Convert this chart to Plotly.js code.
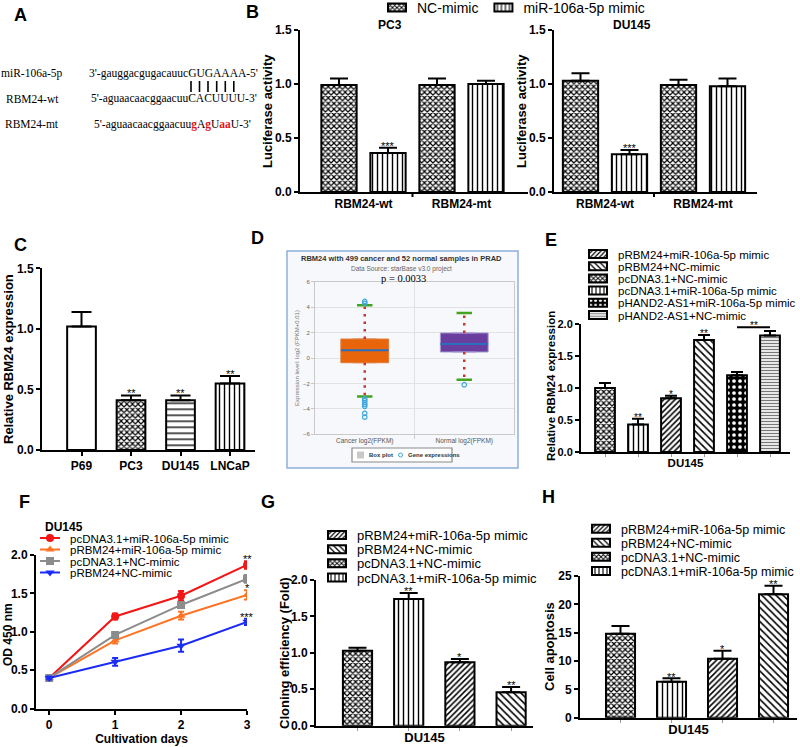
<!DOCTYPE html>
<html><head><meta charset="utf-8">
<script src="https://cdn.plot.ly/plotly-3.0.1.min.js"></script>
<style>html,body{margin:0;padding:0;background:#fff}#chart{width:800px;height:747px}</style>
</head><body><div id="chart"></div>
<script>
// ================= DATA =================
// Panel A
const aLabels = ['miR-106a-5p', 'RBM24-wt', 'RBM24-mt'];
const aSeqs = [
  "3'-gauggacgugacauucGUGAAAA-5'",
  "5'-aguaacaacggaacuuCACUUUU-3'",
  "5'-aguaacaacggaacuu<span style='color:#e8141b'><b>g</b></span>A<span style='color:#e8141b'><b>g</b></span>U<span style='color:#e8141b'><b>aa</b></span>U-3'"
];
// Panel B
const bCategories = ['RBM24-wt', 'RBM24-mt'];
const bSeries = ['NC-mimic', 'miR-106a-5p mimic'];
const bPC3NC = [0.99, 0.99];
const bPC3NCErr = [0.06, 0.06];
const bPC3Mir = [0.36, 1.00];
const bPC3MirErr = [0.05, 0.03];
const bDU145NC = [1.03, 0.99];
const bDU145NCErr = [0.07, 0.05];
const bDU145Mir = [0.35, 0.98];
const bDU145MirErr = [0.04, 0.07];
const bMirStars = ['***', ''];
// Panel C
const cLines = ['P69', 'PC3', 'DU145', 'LNCaP'];
const cValues = [1.02, 0.41, 0.41, 0.55];
const cErr = [0.12, 0.04, 0.04, 0.06];
const cStars = ['', '**', '**', '**'];
// Panel D
const dGroups = ['Cancer log2(FPKM)', 'Normal log2(FPKM)'];
const dQ1 = [-0.37, 0.47];
const dMedian = [0.60, 1.10];
const dQ3 = [1.49, 1.97];
const dLowerWhisker = [-3.02, -1.71];
const dUpperWhisker = [4.14, 3.54];
const dCancerOutliers = [4.3, 4.45, -3.2, -3.35, -3.5, -3.65, -3.8, -4.35, -4.65];
const dNormalOutliers = [-2.1];
// Panel E
const eGroups = ['pcDNA3.1+NC-mimic', 'pcDNA3.1+miR-106a-5p mimic', 'pRBM24+miR-106a-5p mimic', 'pRBM24+NC-mimic', 'pHAND2-AS1+miR-106a-5p mimic', 'pHAND2-AS1+NC-mimic'];
const eValues = [1.00, 0.43, 0.84, 1.75, 1.20, 1.82];
const eErr = [0.08, 0.09, 0.04, 0.08, 0.05, 0.07];
const eStars = ['', '**', '*', '**', '', ''];
const eLegendOrder = ['pRBM24+miR-106a-5p mimic', 'pRBM24+NC-mimic', 'pcDNA3.1+NC-mimic', 'pcDNA3.1+miR-106a-5p mimic', 'pHAND2-AS1+miR-106a-5p mimic', 'pHAND2-AS1+NC-mimic'];
// Panel F
const fDays = [0, 1, 2, 3];
const fSeries = ['pcDNA3.1+miR-106a-5p mimic', 'pRBM24+miR-106a-5p mimic', 'pcDNA3.1+NC-mimic', 'pRBM24+NC-mimic'];
const fPcMir = [0.40, 1.20, 1.47, 1.87];
const fPcMirErr = [0.02, 0.04, 0.06, 0.05];
const fRbmMir = [0.40, 0.89, 1.21, 1.48];
const fRbmMirErr = [0.02, 0.04, 0.05, 0.06];
const fPcNC = [0.40, 0.96, 1.35, 1.69];
const fPcNCErr = [0.02, 0.03, 0.04, 0.05];
const fRbmNC = [0.40, 0.61, 0.82, 1.13];
const fRbmNCErr = [0.02, 0.05, 0.08, 0.04];
const fDay3Stars = ['**', '*', '', '***'];
// Panel G
const gGroups = ['pcDNA3.1+NC-mimic', 'pcDNA3.1+miR-106a-5p mimic', 'pRBM24+miR-106a-5p mimic', 'pRBM24+NC-mimic'];
const gValues = [1.03, 1.74, 0.87, 0.46];
const gErr = [0.04, 0.08, 0.045, 0.07];
const gStars = ['', '**', '*', '**'];
const ghLegendOrder = ['pRBM24+miR-106a-5p mimic', 'pRBM24+NC-mimic', 'pcDNA3.1+NC-mimic', 'pcDNA3.1+miR-106a-5p mimic'];
// Panel H
const hValues = [14.8, 6.35, 10.4, 21.8];
const hErr = [1.4, 0.6, 1.4, 1.5];
const hStars = ['', '**', '*', '**'];

// ================= STYLE / LAYOUT HELPERS =================
const W = 800, H = 747;
const FONT = 'Liberation Sans, Arial, sans-serif';
const SERIF = 'Liberation Serif, Times New Roman, serif';
const xd = (a, b) => [a / W, b / W];
const yd = (top, bot) => [1 - bot / H, 1 - top / H];
const catRange = (pxL, pxR, c0, pitch) => [(pxL - c0) / pitch, (pxR - c0) / pitch];

const PAT = {
  checker: {shape: 'x', size: 4, solidity: 0.5, fgcolor: '#000', bgcolor: '#fff'},
  vline: {shape: '|', size: 5, solidity: 0.28, fgcolor: '#000', bgcolor: '#fff'},
  hline: {shape: '-', size: 6, solidity: 0.22, fgcolor: '#000', bgcolor: '#fff'},
  fslash: {shape: '/', size: 4, solidity: 0.38, fgcolor: '#000', bgcolor: '#fff'},
  bslash: {shape: '\\', size: 5, solidity: 0.32, fgcolor: '#000', bgcolor: '#fff'},
  dots: {shape: '.', size: 6, solidity: 0.3, fgcolor: '#fff', bgcolor: '#000'},
  hgray: {shape: '-', size: 3, solidity: 0.45, fgcolor: '#777', bgcolor: '#fff'},
  none: {shape: '', fgcolor: '#000', bgcolor: '#fff'}
};
const patternFor = {
  'pcDNA3.1+NC-mimic': PAT.checker,
  'pcDNA3.1+miR-106a-5p mimic': PAT.vline,
  'pRBM24+miR-106a-5p mimic': PAT.fslash,
  'pRBM24+NC-mimic': PAT.bslash,
  'pHAND2-AS1+miR-106a-5p mimic': PAT.dots,
  'pHAND2-AS1+NC-mimic': PAT.hgray
};
const cPatterns = [PAT.none, PAT.checker, PAT.hline, PAT.vline];

function errUp(arr, w) {
  return {type: 'data', array: arr, arrayminus: arr.map(() => 0), symmetric: false,
          color: '#000', thickness: 2, width: w};
}
function prismAxis(extra) {
  return Object.assign({
    showline: true, linecolor: '#000', linewidth: 2, ticks: 'outside', ticklen: 4,
    tickwidth: 2, tickcolor: '#000', showgrid: false, zeroline: false, fixedrange: true,
    automargin: false,
    tickfont: {family: FONT, size: 12, color: '#000', weight: 'bold'}
  }, extra);
}
function xtitle(text, size, standoff) {
  return {text: text, font: {family: FONT, size: size, color: '#000', weight: 'bold'}, standoff: standoff};
}
function legendAt(px, py, size, extra) {
  return Object.assign({x: px / W, y: 1 - py / H, xanchor: 'left', yanchor: 'middle',
    bgcolor: 'rgba(0,0,0,0)', borderwidth: 0, itemwidth: 30, tracegroupgap: 0,
    font: {family: FONT, size: size, color: '#000'}}, extra || {});
}

const traces = [];
const annotations = [];
const shapes = [];
const layout = {
  width: W, height: H, margin: {l: 0, r: 0, t: 0, b: 0, pad: 0, autoexpand: false},
  paper_bgcolor: '#fff', plot_bgcolor: '#fff', barmode: 'group', bargap: 0, bargroupgap: 0,
  font: {family: FONT, color: '#000'}, annotations: annotations, shapes: shapes
};
function pa(text, px, py, font, extra) {
  annotations.push(Object.assign({text: text, x: px / W, y: 1 - py / H, xref: 'paper', yref: 'paper',
    showarrow: false, font: font, xanchor: 'center', yanchor: 'middle'}, extra || {}));
}
function ylab(text, px, py, size) {
  pa('<b>' + text + '</b>', px, py, {family: FONT, size: size, color: '#000'}, {textangle: -90});
}
function star(text, xa, ya, x, y, size, shift) {
  if (!text) return;
  annotations.push({text: text, xref: xa, yref: ya, x: x, y: y, showarrow: false,
    xanchor: 'center', yanchor: 'bottom', yshift: shift === undefined ? -6 : shift,
    font: {family: FONT, size: size || 11, color: '#000'}});
}
const letterFont = {family: FONT, size: 18, color: '#000', weight: 'bold'};

// ================= PANEL A =================
pa('<b>A</b>', 20, 15, letterFont);
const aRowsY = [73, 99, 124];
const aSeqX = [87, 89, 92];
aLabels.forEach((t, i) => pa(t, 32, aRowsY[i], {family: SERIF, size: 11.5, color: '#000'}));
aSeqs.forEach((t, i) => pa(t, aSeqX[i], aRowsY[i], {family: SERIF, size: 11.5, color: '#000'}, {xanchor: 'left'}));
[191, 199.5, 208, 216.7, 225.3, 233.8].forEach(px => shapes.push({type: 'line', xref: 'paper', yref: 'paper',
  x0: px / W, x1: px / W, y0: 1 - 81 / H, y1: 1 - 92 / H, line: {color: '#000', width: 1.6}}));

// ================= PANEL B =================
pa('<b>B</b>', 252, 12, letterFont);
pa('<b>PC3</b>', 390, 25, {family: FONT, size: 12, color: '#000'});
pa('<b>DU145</b>', 632, 25, {family: FONT, size: 12, color: '#000'});
const bPanels = [
  {xa: 'x', ya: 'y', nc: bPC3NC, ncE: bPC3NCErr, mi: bPC3Mir, miE: bPC3MirErr},
  {xa: 'x2', ya: 'y2', nc: bDU145NC, ncE: bDU145NCErr, mi: bDU145Mir, miE: bDU145MirErr}
];
const bOffset = 0.25;
bPanels.forEach((p, k) => {
  traces.push({type: 'bar', name: bSeries[0], x: bCategories, y: p.nc, xaxis: p.xa, yaxis: p.ya,
    width: 0.36, offsetgroup: 'nc', marker: {color: '#fff', pattern: PAT.checker, line: {color: '#000', width: 2}},
    error_y: errUp(p.ncE, 9), showlegend: k === 0, legend: 'legend', hoverinfo: 'skip'});
  traces.push({type: 'bar', name: bSeries[1], x: bCategories, y: p.mi, xaxis: p.xa, yaxis: p.ya,
    width: 0.36, offsetgroup: 'mi', marker: {color: '#fff', pattern: PAT.vline, line: {color: '#000', width: 2}},
    error_y: errUp(p.miE, 9), showlegend: k === 0, legend: 'legend', hoverinfo: 'skip'});
  bMirStars.forEach((s, i) => star(s, p.xa, p.ya, i + bOffset, p.mi[i] + p.miE[i], 11));
});
layout.legend = legendAt(377, 8, 14, {orientation: 'h'});
layout.xaxis = prismAxis({domain: xd(300, 528), range: catRange(300, 528, 363.5, 98), type: 'category',
  anchor: 'y', ticks: '', categoryorder: 'array', categoryarray: bCategories});
layout.yaxis = prismAxis({domain: yd(30, 192), range: [0, 1.5], dtick: 0.5, tickformat: '.1f', anchor: 'x'});
layout.xaxis2 = prismAxis({domain: xd(554, 757), range: catRange(554, 757, 605, 98), type: 'category',
  anchor: 'y2', ticks: '', categoryorder: 'array', categoryarray: bCategories});
layout.yaxis2 = prismAxis({domain: yd(30, 192), range: [0, 1.5], dtick: 0.5, tickformat: '.1f', anchor: 'x2'});
ylab('Luciferase activity', 268, 111, 13);
ylab('Luciferase activity', 522, 111, 13);
['x', 'x2'].forEach(xa => shapes.push({type: 'line', xref: xa, yref: 'paper', x0: 0.5, x1: 0.5,
  y0: 1 - 192 / H, y1: 1 - 197 / H, line: {color: '#000', width: 2}}));

// ================= PANEL C =================
pa('<b>C</b>', 20, 245, letterFont);
traces.push({type: 'bar', x: cLines, y: cValues, xaxis: 'x3', yaxis: 'y3', width: 0.58, offsetgroup: 'c',
  marker: {color: '#fff', line: {color: '#000', width: 2},
    pattern: {shape: cPatterns.map(p => p.shape), size: cPatterns.map(p => p.size || 6),
      solidity: cPatterns.map(p => p.solidity || 0.3), fgcolor: '#000', bgcolor: '#fff'}},
  error_y: errUp(cErr, 10), showlegend: false, hoverinfo: 'skip'});
cStars.forEach((s, i) => star(s, 'x3', 'y3', i, cValues[i] + cErr[i], 11));
layout.xaxis3 = prismAxis({domain: xd(42, 255), range: catRange(42, 255, 81.5, 49.5), type: 'category',
  anchor: 'y3', categoryorder: 'array', categoryarray: cLines});
layout.yaxis3 = prismAxis({domain: yd(268.3, 450), range: [0, 1.5], dtick: 0.5, tickformat: '.1f', anchor: 'x3'});
ylab('Relative RBM24 expression', 8, 359, 13);

// ================= PANEL D =================
pa('<b>D</b>', 257, 238, letterFont);
shapes.push({type: 'rect', xref: 'paper', yref: 'paper', x0: 287 / W, x1: 518 / W, y0: 1 - 468 / H, y1: 1 - 251 / H,
  line: {color: '#8fb0da', width: 1.5}, fillcolor: '#f6f8fb', layer: 'below'});
pa('<b>RBM24 with 499 cancer and 52 normal samples in PRAD</b>', 402, 258, {family: FONT, size: 7.5, color: '#333'});
pa('Data Source: starBase v3.0 project', 402, 269, {family: FONT, size: 6.5, color: '#666'});
pa('p = 0.0033', 403, 278.5, {family: SERIF, size: 10.5, color: '#000'});
const dFill = ['#e8650c', '#693e9e'];
const dEdge = ['#e07b35', '#a79ad6'];
const dBoxW = 0.48;
dGroups.forEach((g, i) => {
  traces.push({type: 'box', name: g, x: [i], q1: [dQ1[i]], median: [dMedian[i]], q3: [dQ3[i]],
    lowerfence: [dQ1[i]], upperfence: [dQ3[i]], width: dBoxW, fillcolor: dFill[i],
    line: {color: dEdge[i], width: 1}, xaxis: 'x4', yaxis: 'y4', showlegend: false, hoverinfo: 'skip'});
  traces.push({type: 'scatter', mode: 'lines', x: [i - dBoxW / 2, i + dBoxW / 2], y: [dMedian[i], dMedian[i]],
    line: {color: '#2a6ebd', width: 2}, xaxis: 'x4', yaxis: 'y4', showlegend: false, hoverinfo: 'skip'});
  traces.push({type: 'scatter', mode: 'lines', x: [i, i, null, i, i],
    y: [dQ3[i], dUpperWhisker[i], null, dQ1[i], dLowerWhisker[i]],
    line: {color: '#c0392b', width: 2.5, dash: '2.5px,5px'}, xaxis: 'x4', yaxis: 'y4', showlegend: false, hoverinfo: 'skip'});
  traces.push({type: 'scatter', mode: 'markers', x: [i, i], y: [dLowerWhisker[i], dUpperWhisker[i]],
    marker: {symbol: 'line-ew', size: 11, line: {color: '#43a21e', width: 2.5}},
    xaxis: 'x4', yaxis: 'y4', showlegend: false, hoverinfo: 'skip'});
});
[dCancerOutliers, dNormalOutliers].forEach((arr, i) => traces.push({type: 'scatter', mode: 'markers',
  x: arr.map(() => i), y: arr, marker: {symbol: 'circle-open', size: 4.5, color: '#3fa7dc', line: {width: 1.2}},
  xaxis: 'x4', yaxis: 'y4', showlegend: false, hoverinfo: 'skip'}));
layout.xaxis4 = {domain: xd(315, 514), range: [-0.5, 1.5], anchor: 'y4', showline: true, mirror: true,
  linecolor: '#c9c9c9', linewidth: 1, showgrid: false, zeroline: false, fixedrange: true,
  tickvals: [0, 1], ticktext: dGroups, ticks: '', tickfont: {family: FONT, size: 6.5, color: '#555'},
  minor: {tickvals: [0.5], showgrid: true, gridcolor: '#e2e2e2', ticks: 'outside', ticklen: 4, tickcolor: '#c9c9c9'}};
layout.yaxis4 = {domain: yd(281.7, 434.3), range: [-6, 6], dtick: 2, anchor: 'x4', showline: true, mirror: true,
  linecolor: '#c9c9c9', linewidth: 1, showgrid: true, gridcolor: '#e2e2e2', zeroline: false, fixedrange: true,
  ticks: 'outside', ticklen: 3, tickcolor: '#c9c9c9', tickfont: {family: FONT, size: 6, color: '#666'},
  title: {text: 'Expression level: log2 (FPKM+0.01)', font: {family: FONT, size: 6, color: '#777'}, standoff: 2}};
shapes.push({type: 'rect', xref: 'paper', yref: 'paper', x0: 352 / W, x1: 452 / W, y0: 1 - 462 / H, y1: 1 - 448 / H,
  line: {color: '#8a8a8a', width: 1.2}, fillcolor: '#fff'});
shapes.push({type: 'rect', xref: 'paper', yref: 'paper', x0: 357 / W, x1: 364 / W, y0: 1 - 458.5 / H, y1: 1 - 451.5 / H,
  line: {width: 0}, fillcolor: '#c8c8c8'});
shapes.push({type: 'circle', xref: 'paper', yref: 'paper', x0: 398.5 / W, x1: 402.5 / W, y0: 1 - 457 / H, y1: 1 - 453 / H,
  line: {color: '#3fa7dc', width: 1}});
pa('<b>Box plot</b>', 367, 455, {family: FONT, size: 6, color: '#333'}, {xanchor: 'left'});
pa('<b>Gene expressions</b>', 406, 455, {family: FONT, size: 6, color: '#333'}, {xanchor: 'left'});

// ================= PANEL E =================
pa('<b>E</b>', 551, 240, letterFont);
eGroups.forEach((g, i) => {
  const rank = eLegendOrder.indexOf(g);
  const lg = 'legend' + (2 + rank);
  traces.push({type: 'bar', name: g, x: [g], y: [eValues[i]], xaxis: 'x5', yaxis: 'y5', width: 0.6, offsetgroup: 'e',
    marker: {color: '#fff', pattern: patternFor[g], line: {color: '#000', width: 2}},
    error_y: errUp([eErr[i]], 6), legend: lg, showlegend: true, hoverinfo: 'skip'});
  layout[lg] = legendAt(578, 254 + 12.2 * rank, 11.5);
  star(eStars[i], 'x5', 'y5', i, eValues[i] + eErr[i], 10);
});
const eBr = [eGroups.indexOf('pHAND2-AS1+miR-106a-5p mimic'), eGroups.indexOf('pHAND2-AS1+NC-mimic')];
const eBrY = Math.max(eValues[eBr[1]] + eErr[eBr[1]], eValues[eBr[0]] + eErr[eBr[0]]) + 0.06;
shapes.push({type: 'line', xref: 'x5', yref: 'y5', x0: eBr[0], x1: eBr[1], y0: eBrY, y1: eBrY, line: {color: '#000', width: 2}});
star('**', 'x5', 'y5', (eBr[0] + eBr[1]) / 2, eBrY, 10);
layout.xaxis5 = prismAxis({domain: xd(581, 790), range: catRange(581, 790, 605, 33), type: 'category', anchor: 'y5',
  categoryorder: 'array', categoryarray: eGroups, showticklabels: false, ticklen: 3, tickwidth: 1, tickcolor: '#999',
  title: xtitle('DU145', 11.5, 3)});
layout.yaxis5 = prismAxis({domain: yd(324, 452), range: [0, 2], dtick: 0.5, tickformat: '.1f', anchor: 'x5',
  tickfont: {family: FONT, size: 11, color: '#000', weight: 'bold'}});
ylab('Relative RBM24 expression', 551, 386, 11.5);

// ================= PANEL F =================
pa('<b>F</b>', 24, 502, letterFont);
pa('<b>DU145</b>', 43, 527, {family: FONT, size: 12, color: '#000'}, {xanchor: 'left'});
const fData = [fPcMir, fRbmMir, fPcNC, fRbmNC];
const fErrs = [fPcMirErr, fRbmMirErr, fPcNCErr, fRbmNCErr];
const fColors = ['#f21616', '#ff7424', '#8c8c8c', '#1c2cf5'];
const fSymbols = ['circle', 'triangle-up', 'square', 'triangle-down'];
fSeries.forEach((name, k) => {
  const lg = 'legend' + (8 + k);
  traces.push({type: 'scatter', mode: 'lines+markers', name: name, x: fDays, y: fData[k], xaxis: 'x6', yaxis: 'y6',
    line: {color: fColors[k], width: 2}, marker: {symbol: fSymbols[k], size: 8, color: fColors[k]},
    error_y: {type: 'data', array: fErrs[k], color: fColors[k], thickness: 2, width: 3},
    legend: lg, showlegend: true, hoverinfo: 'skip'});
  layout[lg] = legendAt(30, 538 + 11.5 * k, 11.5);
  const last = fDays.length - 1;
  star(fDay3Stars[k], 'x6', 'y6', fDays[last], fData[k][last] + fErrs[k][last], 11);
});
layout.xaxis6 = prismAxis({domain: xd(36, 247), range: [-0.2, 3], tickvals: fDays, anchor: 'y6',
  title: xtitle('Cultivation days', 12, 4)});
layout.yaxis6 = prismAxis({domain: yd(555, 708.7), range: [0, 2], dtick: 0.5, tickformat: '.1f', anchor: 'x6'});
ylab('OD 450 nm', 8, 635, 12);

// ================= PANEL G =================
pa('<b>G</b>', 268, 502, letterFont);
gGroups.forEach((g, i) => {
  const rank = ghLegendOrder.indexOf(g);
  const lg = 'legend' + (12 + rank);
  traces.push({type: 'bar', name: g, x: [g], y: [gValues[i]], xaxis: 'x7', yaxis: 'y7', width: 0.57, offsetgroup: 'g',
    marker: {color: '#fff', pattern: patternFor[g], line: {color: '#000', width: 2}},
    error_y: errUp([gErr[i]], 9), legend: lg, showlegend: true, hoverinfo: 'skip'});
  layout[lg] = legendAt(317, 535 + 14.2 * rank, 13);
  star(gStars[i], 'x7', 'y7', i, gValues[i] + gErr[i], 11);
});
layout.xaxis7 = prismAxis({domain: xd(316, 533), range: catRange(316, 533, 357.5, 51.2), type: 'category', anchor: 'y7',
  categoryorder: 'array', categoryarray: gGroups, showticklabels: false, ticklen: 3, tickwidth: 1, tickcolor: '#999',
  title: xtitle('DU145', 13, 3)});
layout.yaxis7 = prismAxis({domain: yd(580, 725.7), range: [0, 2], dtick: 0.5, tickformat: '.1f', anchor: 'x7'});
ylab('Cloning efficiency (Fold)', 284, 653, 13);

// ================= PANEL H =================
pa('<b>H</b>', 548, 497, letterFont);
gGroups.forEach((g, i) => {
  const rank = ghLegendOrder.indexOf(g);
  const lg = 'legend' + (16 + rank);
  traces.push({type: 'bar', name: g, x: [g], y: [hValues[i]], xaxis: 'x8', yaxis: 'y8', width: 0.57, offsetgroup: 'h',
    marker: {color: '#fff', pattern: patternFor[g], line: {color: '#000', width: 2}},
    error_y: errUp([hErr[i]], 9), legend: lg, showlegend: true, hoverinfo: 'skip'});
  layout[lg] = legendAt(581, 529 + 14.1 * rank, 12.5);
  star(hStars[i], 'x8', 'y8', i, hValues[i] + hErr[i], 11, -6.5);
});
layout.xaxis8 = prismAxis({domain: xd(580, 797), range: catRange(580, 797, 620.5, 51), type: 'category', anchor: 'y8',
  categoryorder: 'array', categoryarray: gGroups, showticklabels: false, ticklen: 3, tickwidth: 1, tickcolor: '#999',
  title: xtitle('DU145', 13, 3)});
layout.yaxis8 = prismAxis({domain: yd(576, 717.7), range: [0, 25], dtick: 5, anchor: 'x8'});
ylab('Cell apoptosis', 549, 647, 13);

// Legend swatches: Prism-like wide, short patches and short line samples
function reshapeLegendSymbols() {
  document.querySelectorAll('g.legendpoints path').forEach(p => {
    const d = p.getAttribute('d') || '';
    if (d.replace(/\s/g, '') === 'M6,6H-6V-6H6Z') p.setAttribute('d', 'M9,4H-9V-4H9Z');
  });
  document.querySelectorAll('g.legendlines path').forEach(p => {
    const d = p.getAttribute('d') || '';
    if (/^M5,0h30$/.test(d.replace(/\s/g, ''))) p.setAttribute('d', 'M10,0h20');
  });
}
const gd = document.getElementById('chart');
Plotly.newPlot(gd, traces, layout, {staticPlot: true, displayModeBar: false}).then(() => {
  reshapeLegendSymbols();
  gd.on && gd.on('plotly_afterplot', reshapeLegendSymbols);
});
reshapeLegendSymbols();
[0, 30, 100, 300, 800].forEach(t => setTimeout(reshapeLegendSymbols, t));
</script>
</body></html>
